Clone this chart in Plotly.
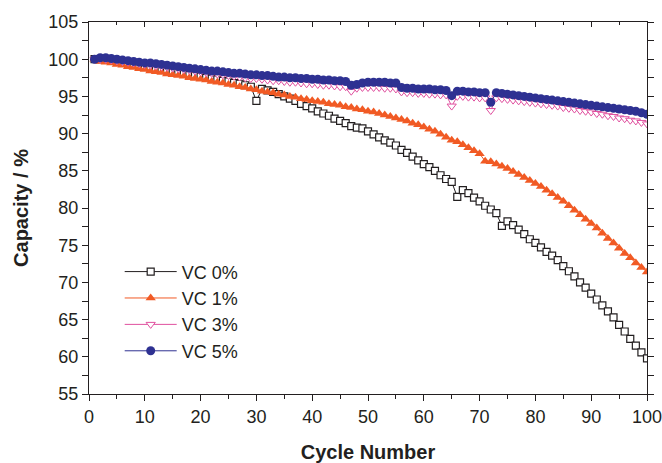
import plotly.graph_objects as go

cycles = list(range(1, 101))

vc0 = [100.0, 100.0, 99.9, 99.8, 99.7, 99.5, 99.4, 99.3, 99.1, 99.0,
       98.9, 98.7, 98.6, 98.5, 98.3, 98.2, 98.1, 97.9, 97.8, 97.7,
       97.5, 97.4, 97.3, 97.1, 97.0, 96.8, 96.7, 96.5, 96.3, 94.4,
       96.0, 95.8, 95.6, 95.3, 95.0, 94.7, 94.4, 94.0, 93.7, 93.4,
       93.0, 92.7, 92.4, 92.0, 91.7, 91.4, 91.0, 90.8, 90.7, 90.3,
       89.9, 89.5, 89.1, 88.8, 88.4, 87.8, 87.4, 86.9, 86.4, 85.9,
       85.5, 85.0, 84.4, 83.9, 83.5, 81.5, 82.4, 82.0, 81.4, 80.9,
       80.3, 79.8, 79.3, 77.6, 78.2, 77.7, 77.1, 76.5, 75.8, 75.3,
       74.7, 74.1, 73.6, 73.0, 72.2, 71.5, 70.8, 70.0, 69.3, 68.5,
       67.7, 66.9, 66.1, 65.3, 64.3, 63.4, 62.4, 61.5, 60.6, 59.8]

vc1 = [100.0, 99.7, 99.6, 99.5, 99.3, 99.2, 99.0, 98.9, 98.7, 98.6,
       98.4, 98.3, 98.2, 98.0, 97.9, 97.8, 97.7, 97.5, 97.4, 97.3,
       97.2, 97.0, 96.9, 96.8, 96.6, 96.5, 96.3, 96.2, 96.0, 95.9,
       95.7, 95.6, 95.5, 95.3, 95.2, 95.0, 94.9, 94.7, 94.6, 94.4,
       94.3, 94.2, 94.0, 93.9, 93.8, 93.6, 93.5, 93.3, 93.2, 93.0,
       92.9, 92.7, 92.5, 92.3, 92.1, 91.9, 91.7, 91.4, 91.2, 90.9,
       90.6, 90.3, 89.9, 89.5, 89.1, 88.9, 88.5, 88.1, 87.7, 87.3,
       86.3, 86.2, 85.9, 85.6, 85.3, 84.9, 84.5, 84.1, 83.7, 83.3,
       82.9, 82.4, 81.9, 81.4, 80.9, 80.3, 79.7, 79.1, 78.5, 77.9,
       77.3, 76.6, 75.9, 75.3, 74.6, 73.9, 73.3, 72.6, 72.0, 71.4]

vc3 = [100.0, 100.0, 100.0, 99.9, 99.8, 99.7, 99.6, 99.5, 99.4, 99.3,
       99.2, 99.1, 99.0, 98.9, 98.8, 98.7, 98.6, 98.5, 98.4, 98.3,
       98.2, 98.1, 98.0, 97.9, 97.8, 97.7, 97.6, 97.5, 97.4, 97.4,
       97.3, 97.2, 97.1, 97.1, 97.0, 96.9, 96.9, 96.8, 96.7, 96.7,
       96.6, 96.5, 96.5, 96.4, 96.3, 96.3, 95.7, 96.1, 96.2, 96.2,
       96.2, 96.2, 96.1, 96.1, 96.0, 95.6, 95.5, 95.5, 95.4, 95.4,
       95.3, 95.3, 95.2, 95.2, 93.7, 95.0, 95.0, 94.9, 94.9, 94.8,
       94.8, 93.1, 94.8, 94.7, 94.6, 94.5, 94.4, 94.3, 94.2, 94.1,
       94.0, 93.9, 93.8, 93.7, 93.5, 93.4, 93.3, 93.1, 93.0, 92.9,
       92.7, 92.6, 92.4, 92.3, 92.1, 92.0, 91.8, 91.7, 91.5, 91.3]

vc5 = [100.0, 100.2, 100.2, 100.1, 100.0, 99.9, 99.8, 99.7, 99.6, 99.5,
       99.5, 99.4, 99.3, 99.2, 99.1, 99.0, 98.9, 98.8, 98.7, 98.6,
       98.5, 98.4, 98.4, 98.3, 98.2, 98.1, 98.1, 98.0, 97.9, 97.9,
       97.8, 97.8, 97.7, 97.6, 97.6, 97.5, 97.5, 97.4, 97.4, 97.3,
       97.3, 97.2, 97.2, 97.1, 97.1, 97.0, 96.5, 96.6, 96.8, 96.9,
       96.9, 96.9, 96.9, 96.8, 96.8, 96.2, 96.1, 96.1, 96.0, 96.0,
       96.0, 95.9, 95.9, 95.8, 95.1, 95.7, 95.7, 95.6, 95.6, 95.5,
       95.5, 94.2, 95.5, 95.4, 95.3, 95.2, 95.1, 95.0, 94.9, 94.8,
       94.7, 94.6, 94.5, 94.4, 94.3, 94.2, 94.1, 94.0, 93.9, 93.8,
       93.7, 93.6, 93.5, 93.4, 93.3, 93.2, 93.1, 93.0, 92.8, 92.6]

names = ["VC 0%", "VC 1%", "VC 3%", "VC 5%"]
x_ticks = [0, 10, 20, 30, 40, 50, 60, 70, 80, 90, 100]
y_ticks = [55, 60, 65, 70, 75, 80, 85, 90, 95, 100, 105]

TXT = "#231f20"
FONT = "Liberation Sans, Arial, sans-serif"

fig = go.Figure()
fig.add_trace(go.Scatter(
    x=cycles, y=vc0, name=names[0], mode="lines+markers",
    line=dict(color="#231f20", width=1),
    marker=dict(symbol="square", size=7, color="white",
                line=dict(color="#231f20", width=1.2))))
fig.add_trace(go.Scatter(
    x=cycles, y=vc1, name=names[1], mode="lines+markers",
    line=dict(color="#f15a24", width=1),
    marker=dict(symbol="triangle-up", size=9, color="#f15a24",
                line=dict(color="#f15a24", width=0))))
fig.add_trace(go.Scatter(
    x=cycles, y=vc3, name=names[2], mode="lines+markers",
    line=dict(color="#e0509f", width=1),
    marker=dict(symbol="triangle-down", size=8, color="white",
                line=dict(color="#e0509f", width=1))))
fig.add_trace(go.Scatter(
    x=cycles, y=vc5, name=names[3], mode="lines+markers",
    line=dict(color="#2e3192", width=1),
    marker=dict(symbol="circle", size=9, color="#2e3192",
                line=dict(color="#2e3192", width=0))))

# overlay axis for inward top ticks
fig.add_trace(go.Scatter(x=[None], y=[None], xaxis="x2", showlegend=False, hoverinfo="skip"))

fig.update_layout(
    width=662, height=463,
    margin=dict(l=89, r=15, t=22, b=69, autoexpand=False),
    paper_bgcolor="white", plot_bgcolor="white",
    font=dict(family=FONT, color=TXT, size=18),
    showlegend=True,
    legend=dict(x=0.055, y=0.378, xanchor="left", yanchor="top",
                bgcolor="rgba(0,0,0,0)", borderwidth=0,
                font=dict(family=FONT, size=18, color=TXT),
                tracegroupgap=0, itemwidth=52),
    xaxis=dict(range=[0, 100], tickvals=x_ticks, ticks="outside", ticklen=6,
               tickwidth=1.2, tickcolor=TXT, showline=True, linecolor=TXT,
               linewidth=1.2, mirror=True, showgrid=False, zeroline=False,
               automargin=False, ticklabeloverflow="allow",
               tickfont=dict(size=18, color=TXT, family=FONT),
               minor=dict(dtick=5, ticks="outside", ticklen=4, tickcolor=TXT, tickwidth=1),
               title=dict(text="<b>Cycle Number</b>", font=dict(size=20, color=TXT, family=FONT),
                          standoff=24)),
    xaxis2=dict(range=[0, 100], overlaying="x", side="top", tickvals=x_ticks,
                ticks="inside", ticklen=5, tickwidth=1.2, tickcolor=TXT,
                showticklabels=False, showgrid=False, zeroline=False, showline=False,
                automargin=False,
                minor=dict(dtick=5, ticks="inside", ticklen=3, tickcolor=TXT, tickwidth=1)),
    yaxis=dict(range=[55, 105], tickvals=y_ticks, ticks="outside", ticklen=6,
               tickwidth=1.2, tickcolor=TXT, showline=True, linecolor=TXT,
               linewidth=1.2, mirror="allticks", showgrid=False, zeroline=False,
               automargin=False, ticklabeloverflow="allow",
               tickfont=dict(size=18, color=TXT, family=FONT),
               minor=dict(dtick=2.5, ticks="outside", ticklen=4, tickcolor=TXT, tickwidth=1),
               title=dict(text="<b>Capacity / %</b>", font=dict(size=20, color=TXT, family=FONT),
                          standoff=14)),
)

fig.write_html("out.html")
